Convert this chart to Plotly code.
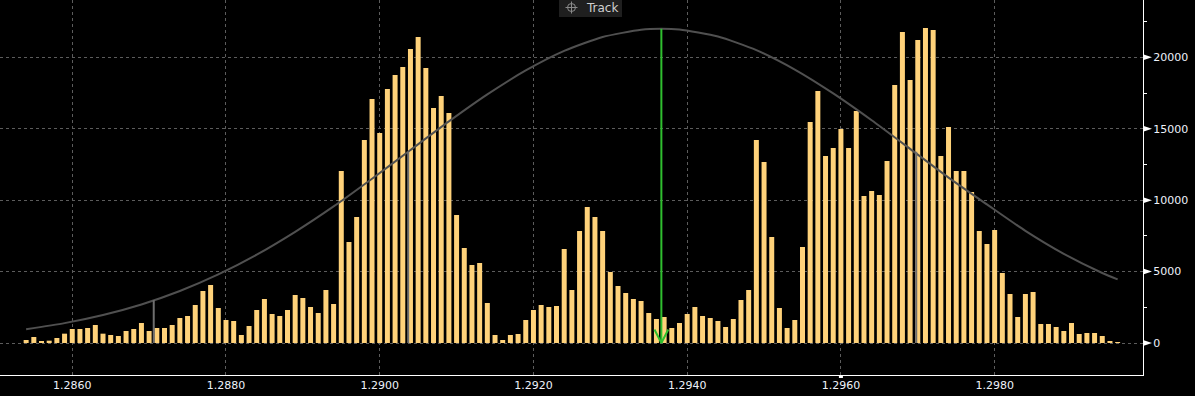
import plotly.graph_objects as go

# ---------------- data ----------------
price_start = 1.2854
price_step = 0.0001
volume = [
    210, 420, 93, 163, 350, 653, 980, 980, 1050, 1260, 653, 560, 490, 840, 980, 1400, 840, 1050, 1050, 1260, 1750, 1890, 2660,
    3640, 4060, 2450, 1610, 1540, 560, 1190, 2310, 3080, 2030, 1890, 2310, 3360, 3150, 2520, 2100, 3710, 2730, 12040, 7070, 8820, 14210, 17080, 14700, 17780,
    18760, 19320, 20580, 21420, 19250, 16450, 17290, 16100, 8960, 6650, 5460, 5600, 2800, 560, 210, 560, 630, 1610, 2310, 2660, 2520, 2590, 6580, 3710,
    7840, 9520, 8820, 7840, 4970, 3990, 3500, 3080, 2940, 2100, 1680, 1820, 1050, 1400, 2030, 2520, 1890, 1750, 1540, 1120, 1680, 3010, 3710, 14210, 12670,
    7420, 2450, 1050, 1610, 6720, 15470, 17640, 13090, 13650, 14980, 13650, 16240, 10290, 10640, 10360, 12740, 18060, 21770, 18410, 21210, 22050, 21910, 13090, 15120, 12040,
    12040, 10570, 7840, 6930, 7910, 4900, 3430, 1820, 3430, 3570, 1330, 1330, 1120, 840, 1400, 630, 700, 700, 490, 140, 70,
]
prices = [round(price_start + i * price_step, 4) for i in range(len(volume))]

curve_x = [1.2854, 1.2859, 1.2864, 1.2869, 1.2874, 1.2879, 1.2884, 1.2889, 1.2894, 1.2899,
           1.2904, 1.2909, 1.2914, 1.2919, 1.2924, 1.2929, 1.2934, 1.29366, 1.2939, 1.2944,
           1.2949, 1.2954, 1.2959, 1.2964, 1.2969, 1.2974, 1.2979, 1.2984, 1.2989, 1.2994, 1.2996]
curve_y = [960, 1390, 1960, 2700, 3640, 4800, 6180, 7780, 9560, 11500,
           13510, 15510, 17400, 19080, 20450, 21420, 21930, 22000, 21940, 21450,
           20500, 19140, 17470, 15590, 13590, 11580, 9700, 7850, 6240, 4900, 4450]

sigma_x = [1.28706, 1.29037, 1.29698]
sigma_top = [3000, 13390, 13390]

track_price = 1.293664
track_top = 22000
cursor_price = 1.2960

x_ticks = [1.2860, 1.2880, 1.2900, 1.2920, 1.2940, 1.2960, 1.2980]
x_labels = ["1.2860", "1.2880", "1.2900", "1.2920", "1.2940", "1.2960", "1.2980"]
y_ticks = [0, 5000, 10000, 15000, 20000]

# ---------------- styles ----------------
BAR = "#ffd27a"
CURVE = "#505050"
SIGMA = "#6e6e6e"
GREEN = "#2fbf2f"
GRID = "#5c5c5c"
LABEL = "#eef2fa"
FONT = "DejaVu Sans"

fig = go.Figure()

fig.add_trace(go.Bar(x=prices, y=volume, marker=dict(color=BAR, line=dict(width=0)),
                     hoverinfo="skip", showlegend=False))

fig.add_trace(go.Scatter(x=curve_x, y=curve_y, mode="lines",
                         line=dict(color=CURVE, width=2, shape="spline", smoothing=0.6),
                         hoverinfo="skip", showlegend=False))

sx, sy = [], []
for px, top in zip(sigma_x, sigma_top):
    sx += [px, px, None]
    sy += [0, top, None]
fig.add_trace(go.Scatter(x=sx, y=sy, mode="lines", line=dict(color=SIGMA, width=2),
                         hoverinfo="skip", showlegend=False))

# green track line with open arrow head
fig.add_trace(go.Scatter(x=[track_price, track_price], y=[track_top, 0], mode="lines",
                         line=dict(color=GREEN, width=2), hoverinfo="skip", showlegend=False))
head_dx = 0.00009
head_dy = 950
fig.add_trace(go.Scatter(x=[track_price - head_dx, track_price, track_price + head_dx],
                         y=[head_dy, 0, head_dy], mode="lines",
                         line=dict(color=GREEN, width=2), hoverinfo="skip", showlegend=False))

shapes = []
# triangle tick markers on the right axis
for v in y_ticks:
    shapes.append(dict(type="path", xref="paper", yref="y",
                       xsizemode="pixel", xanchor=1, ysizemode="pixel", yanchor=v,
                       path="M0,-3 L9,0 L0,3 Z", fillcolor="white", line=dict(width=0)))
# small cursor marker on x axis
shapes.append(dict(type="rect", xref="x", yref="paper",
                   xsizemode="pixel", xanchor=cursor_price, x0=-2, x1=2,
                   ysizemode="pixel", yanchor=0, y0=-3, y1=0,
                   fillcolor="white", line=dict(width=0)))
# Track button background
shapes.append(dict(type="rect", xref="paper", yref="paper",
                   xsizemode="pixel", xanchor=0, x0=559, x1=622,
                   ysizemode="pixel", yanchor=1, y0=-17, y1=0,
                   fillcolor="#1f1f1f", line=dict(width=0), layer="above"))
# crosshair icon in the Track button
shapes.append(dict(type="circle", xref="paper", yref="paper",
                   xsizemode="pixel", xanchor=0, x0=567.5, x1=575.5,
                   ysizemode="pixel", yanchor=1, y0=-11.5, y1=-3.5,
                   line=dict(color="#8a8a8a", width=1), layer="above"))
shapes.append(dict(type="path", xref="paper", yref="paper",
                   xsizemode="pixel", xanchor=0, ysizemode="pixel", yanchor=1,
                   path="M565.5,-7.5 L577.5,-7.5 M571.5,-1.5 L571.5,-13.5",
                   line=dict(color="#8a8a8a", width=1), layer="above"))

fig.update_layout(
    width=1195, height=396,
    margin=dict(l=0, r=52, t=0, b=21),
    paper_bgcolor="black", plot_bgcolor="black",
    bargap=0.35,
    font=dict(family=FONT, size=11, color=LABEL),
    shapes=shapes,
    annotations=[dict(xref="paper", yref="paper", x=584 / 1143, y=1, yshift=1,
                      xanchor="left", yanchor="top", showarrow=False,
                      text="Track",
                      font=dict(family=FONT, size=12, color="#cfcfcf"))],
    xaxis=dict(range=[1.28506, 1.29993], tickmode="array", tickvals=x_ticks, ticktext=x_labels,
               showgrid=True, gridcolor=GRID, griddash="3px,3px", gridwidth=1,
               showline=True, linecolor="white", linewidth=1, ticks="", zeroline=False,
               tickfont=dict(family=FONT, size=11, color=LABEL), fixedrange=True),
    yaxis=dict(side="right", range=[-2240, 24010], tickmode="linear", tick0=0, dtick=5000,
               tickformat="d",
               showgrid=True, gridcolor=GRID, griddash="3px,3px", gridwidth=1,
               showline=True, linecolor="white", linewidth=1, zeroline=False,
               ticks="outside", ticklen=7, tickcolor="rgba(0,0,0,0)",
               minor=dict(tick0=0, dtick=2500, ticks="outside", ticklen=3, tickcolor="white",
                          showgrid=False),
               tickfont=dict(family=FONT, size=11, color=LABEL), fixedrange=True),
)

fig.write_html("out.html")
